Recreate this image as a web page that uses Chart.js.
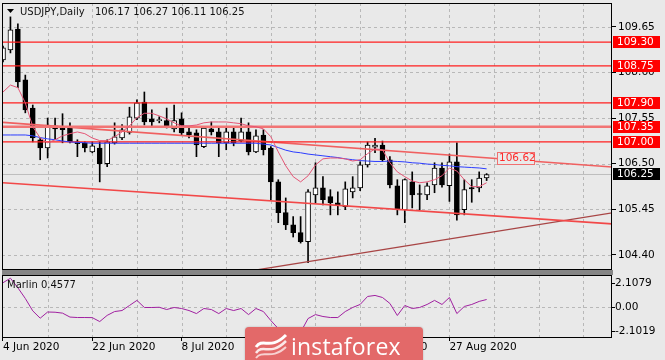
<!DOCTYPE html>
<html>
<head>
<meta charset="utf-8">
<title>USDJPY Daily</title>
<script src="https://cdn.jsdelivr.net/npm/chart.js@4/dist/chart.umd.min.js"></script>
<style>
  html, body { margin: 0; padding: 0; background: #e9e9e9; }
  #wrap { position: relative; width: 665px; height: 360px; overflow: hidden; }
  canvas { position: absolute; left: 0; }
  #main { top: 0; }
  #ind { top: 274px; }
  #sep { position: absolute; left: 2px; top: 270px; width: 611px; height: 5px; background: #858585; }
  #logo {
    position: absolute; left: 245px; top: 327px; width: 178px; height: 40px;
    background: #e36969; border-radius: 4px; box-shadow: 0 0 2px rgba(0,0,0,0.25);
  }
  #logo svg { position: absolute; left: 9px; top: 4px; }
  #logo span {
    position: absolute; left: 46px; top: 3px; color: #fff;
    font: 23px 'Open Sans', sans-serif; letter-spacing: 0.2px;
  }
</style>
</head>
<body>
<div id="wrap">
  <canvas id="main" width="665" height="271"></canvas>
  <div id="sep"></div>
  <canvas id="ind" width="665" height="86"></canvas>
  <div id="logo">
    <svg width="34" height="28" viewBox="0 0 34 28">
      <path d="M2 16 C9 6, 16 20, 32 4" stroke="#fff" stroke-width="3" fill="none"/>
      <path d="M2 22 C9 12, 16 26, 32 10" stroke="#fff" stroke-width="2.5" fill="none" opacity="0.85"/>
      <path d="M2 27 C9 18, 17 30, 32 16" stroke="#fff" stroke-width="2" fill="none" opacity="0.7"/>
    </svg>
    <span>instaforex</span>
  </div>
</div>
<script>
// barras diarias USDJPY
const dates = [
  '2020-06-04','2020-06-05','2020-06-08','2020-06-09','2020-06-10','2020-06-11','2020-06-12','2020-06-15','2020-06-16','2020-06-17',
  '2020-06-18','2020-06-19','2020-06-22','2020-06-23','2020-06-24','2020-06-25','2020-06-26','2020-06-29','2020-06-30',
  '2020-07-01','2020-07-02','2020-07-03','2020-07-06','2020-07-07','2020-07-08','2020-07-09','2020-07-10','2020-07-13','2020-07-14',
  '2020-07-15','2020-07-16','2020-07-17','2020-07-20','2020-07-21','2020-07-22','2020-07-23','2020-07-24','2020-07-27','2020-07-28',
  '2020-07-29','2020-07-30','2020-07-31',
  '2020-08-03','2020-08-04','2020-08-05','2020-08-06','2020-08-07','2020-08-10','2020-08-11','2020-08-12','2020-08-13','2020-08-14',
  '2020-08-17','2020-08-18','2020-08-19','2020-08-20','2020-08-21','2020-08-24','2020-08-25','2020-08-26','2020-08-27','2020-08-28',
  '2020-08-31','2020-09-01','2020-09-02','2020-09-03'
];
const opens = [108.89,109.12,109.60,108.43,107.78,107.05,106.86,107.37,107.33,107.32,107.00,106.98,106.77,106.86,106.50,106.98,107.09,107.22,107.55,107.92,
  107.53,107.49,107.49,107.30,107.53,107.23,107.21,106.89,107.30,107.23,106.98,107.23,107.03,107.23,106.77,107.16,106.86,106.08,105.37,105.09,
  104.91,104.70,105.78,105.94,105.74,105.60,105.51,105.85,105.94,106.47,106.88,106.93,106.59,105.99,105.44,106.08,105.80,105.78,106.01,106.40,
  105.99,106.54,105.44,105.95,105.94,106.17];
const highs = [109.21,109.88,109.72,108.54,107.85,107.09,107.55,107.55,107.65,107.44,107.05,107.00,107.00,107.00,107.05,107.44,107.40,107.80,107.97,108.15,
  107.74,107.58,107.78,107.85,107.67,107.32,107.28,107.35,107.46,107.32,107.32,107.32,107.55,107.44,107.28,107.28,106.89,106.13,105.71,105.28,
  105.28,105.90,106.52,106.20,105.90,105.85,106.08,106.20,106.54,107.00,107.08,107.02,106.66,106.13,106.15,106.31,106.01,106.06,106.52,106.52,
  106.72,106.98,106.13,106.13,106.31,106.27];
const lows = [108.84,109.05,108.25,107.67,107.00,106.59,106.63,107.05,106.98,106.98,106.66,106.77,106.75,106.08,106.43,106.95,107.05,107.18,107.51,107.39,
  107.35,107.44,107.32,107.23,107.16,107.09,106.66,106.87,107.16,106.66,106.82,106.91,107.00,106.70,106.75,106.70,105.67,105.14,104.98,104.81,
  104.67,104.22,105.60,105.55,105.32,105.32,105.44,105.71,105.88,106.42,106.75,106.55,105.94,105.32,105.14,105.48,105.44,105.67,105.83,105.96,
  105.63,105.20,105.32,105.61,105.85,106.11];
const closes = [109.17,109.58,108.38,107.74,107.09,106.86,107.39,107.30,107.28,107.00,106.96,106.86,106.91,106.50,107.00,107.12,107.28,107.58,107.90,107.46,
  107.46,107.50,107.35,107.49,107.21,107.16,106.93,107.32,107.23,106.98,107.23,106.98,107.23,106.77,107.14,106.82,106.08,105.37,105.09,104.91,
  104.70,105.85,105.94,105.67,105.60,105.53,105.92,105.94,106.47,106.93,106.93,106.59,106.01,105.44,106.13,105.78,105.79,105.99,106.40,106.01,
  106.54,105.32,105.90,105.92,106.17,106.25];

// medias moviles (rapida rosa, lenta azul)
const maFast = [108.15,108.31,108.25,107.90,107.35,107.09,106.98,107.05,107.14,107.19,107.23,107.19,107.09,107.03,107.03,107.12,107.23,107.37,107.56,107.66,
  107.66,107.60,107.53,107.44,107.37,107.37,107.39,107.44,107.46,107.46,107.46,107.44,107.42,107.37,107.35,107.30,107.12,106.77,106.45,106.20,
  106.08,106.22,106.47,106.61,106.63,106.63,106.61,106.56,106.59,106.73,106.84,106.82,106.52,106.31,106.20,106.10,106.06,106.08,106.13,106.22,
  106.40,106.33,106.13,105.97,105.97,106.06];
const maSlow = [107.16,107.16,107.16,107.16,107.14,107.10,107.07,107.05,107.02,107.00,106.99,106.98,106.97,106.97,106.97,106.97,106.97,106.97,106.97,106.97,
  106.97,106.97,106.97,106.97,106.97,106.97,106.97,106.97,106.97,106.97,106.97,106.97,106.97,106.97,106.97,106.95,106.93,106.87,106.81,106.77,
  106.75,106.72,106.70,106.68,106.66,106.64,106.61,106.59,106.57,106.56,106.55,106.55,106.56,106.55,106.54,106.52,106.51,106.49,106.48,106.46,
  106.45,106.43,106.42,106.41,106.40,106.38];

// indicador Marlin
const marlin = [2.2,2.6,1.75,0.8,-0.3,-0.95,-0.4,-0.42,-0.5,-0.85,-0.89,-0.89,-0.9,-1.25,-0.7,-0.36,-0.27,0.18,0.63,0.0,
  0.0,0.02,-0.18,0.0,-0.09,-0.27,-0.54,-0.09,-0.18,-0.54,-0.09,-0.27,-0.09,-0.63,-0.09,-0.36,-1.16,-1.88,-2.4,-2.7,
  -2.2,-0.98,-0.63,-0.8,-0.89,-0.89,-0.36,0.0,0.27,0.98,1.07,0.89,0.36,-0.71,0.18,-0.09,0.0,0.27,0.63,0.27,
  0.89,-0.54,0.09,0.27,0.54,0.71];
const marlinValue = 0.4577;

// niveles y lineas de tendencia [barra, precio]
const levels = [109.30, 108.75, 107.90, 107.35, 107.00];
const trendUpper = [[0, 107.45], [82, 106.42]];
const trendLower = [[0, 106.06], [82, 105.11]];
const trendRising = [[30, 103.94], [82, 105.37]];
const trendTag = [66.4, 106.62];

// etiquetas de ejes
const priceTicks = [104.40, 105.45, 106.50, 107.55, 108.60, 109.65];
const marlinTicks = [-2.1019, 0, 2.1079];
const marlinTickLabels = ['-2.1019', '0.00', '2.1079'];
const tickDates = ['2020-06-04', '2020-06-22', '2020-07-08', '2020-07-24', '2020-08-11', '2020-08-27'];

const MONTHS = ['Jan','Feb','Mar','Apr','May','Jun','Jul','Aug','Sep','Oct','Nov','Dec'];
const fmtDate = d => `${+d.slice(8)} ${MONTHS[+d.slice(5, 7) - 1]} ${d.slice(0, 4)}`;
const tickBars = tickDates.map(d => dates.indexOf(d));

const X_MIN = -0.134, X_MAX = 81.85;
const FONT = "'DejaVu Sans', sans-serif";
const BG = '#e9e9e9';

Chart.defaults.font.family = FONT;
Chart.defaults.font.size = 10.5;
Chart.defaults.color = '#000';
Chart.defaults.animation = false;

const last = closes.length - 1;
const pts = arr => arr.map((v, i) => ({ x: i, y: v }));
const seg = arr => arr.map(p => ({ x: p[0], y: p[1] }));
const flat = v => [{ x: X_MIN, y: v }, { x: X_MAX, y: v }];
const lineDs = (data, color, width, order) => ({
  type: 'line', data, borderColor: color, borderWidth: width,
  pointRadius: 0, fill: false, tension: 0, order
});
const crisp = v => Math.round(v) + 0.5;

// rejilla punteada
const dashGrid = {
  id: 'dashGrid',
  beforeDatasetsDraw(chart, args, opts) {
    const { ctx, chartArea: a, scales: { x, y } } = chart;
    ctx.save();
    ctx.strokeStyle = '#b8b8b8';
    ctx.lineWidth = 1;
    ctx.setLineDash([3, 3]);
    ctx.beginPath();
    for (let b = 6; b < X_MAX; b += 6) {
      const px = crisp(x.getPixelForValue(b));
      ctx.moveTo(px, a.top); ctx.lineTo(px, a.bottom);
    }
    opts.values.forEach(v => {
      const py = crisp(y.getPixelForValue(v));
      ctx.moveTo(a.left, py); ctx.lineTo(a.right, py);
    });
    ctx.stroke();
    ctx.restore();
  }
};

// marco negro
const frame = {
  id: 'frame',
  afterDatasetsDraw(chart) {
    const { ctx, chartArea: a } = chart;
    ctx.save();
    ctx.strokeStyle = '#000';
    ctx.lineWidth = 1;
    ctx.strokeRect(Math.round(a.left) + 0.5, Math.round(a.top) + 0.5,
      Math.round(a.right) - Math.round(a.left) - 1, Math.round(a.bottom) - Math.round(a.top) - 1);
    ctx.restore();
  }
};

// etiquetas de precio, titulo
const priceTags = {
  id: 'priceTags',
  afterDraw(chart) {
    const { ctx, chartArea: a, scales: { x, y } } = chart;
    ctx.save();
    ctx.font = '10.5px ' + FONT;
    ctx.textBaseline = 'middle';
    const tag = (value, bg) => {
      const py = Math.round(y.getPixelForValue(value));
      ctx.fillStyle = bg;
      ctx.fillRect(a.right + 1, py - 6, 47, 12);
      ctx.fillStyle = '#fff';
      ctx.fillText(value.toFixed(2), a.right + 5, py + 0.5);
    };
    levels.forEach(v => tag(v, '#ff0000'));
    tag(closes[last], '#000');

    // etiqueta de la linea de tendencia
    const tx = Math.round(x.getPixelForValue(trendTag[0]));
    const ty = Math.round(y.getPixelForValue(trendTag[1]));
    ctx.fillStyle = BG;
    ctx.fillRect(tx, ty - 6, 38, 12);
    ctx.strokeStyle = '#f07070';
    ctx.lineWidth = 1;
    ctx.strokeRect(tx + 0.5, ty - 5.5, 37, 12);
    ctx.fillStyle = '#ff2a2a';
    ctx.fillText(trendTag[1].toFixed(2), tx + 2, ty + 0.5);

    // titulo
    ctx.fillStyle = '#000';
    ctx.beginPath();
    ctx.moveTo(7, 9); ctx.lineTo(14, 9); ctx.lineTo(10.5, 13); ctx.closePath();
    ctx.fill();
    ctx.font = '10px ' + FONT;
    ctx.fillStyle = '#111';
    ctx.fillText('USDJPY,Daily', 20, 12.5);
    ctx.fillText([opens, highs, lows, closes].map(s => s[last].toFixed(2)).join(' '), 95, 12.5);
    ctx.restore();
  }
};

const marlinTitle = {
  id: 'marlinTitle',
  afterDraw(chart) {
    const { ctx } = chart;
    ctx.save();
    ctx.font = '10px ' + FONT;
    ctx.fillStyle = '#111';
    ctx.textBaseline = 'middle';
    ctx.fillText('Marlin ' + marlinValue.toFixed(4), 7, 11.5);
    ctx.restore();
  }
};

const bodyFill = closes.map((c, i) => c >= opens[i] ? '#ffffff' : '#000000');

// grafica principal: velas
new Chart(document.getElementById('main'), {
  type: 'bar',
  data: {
    datasets: [
      lineDs(flat(closes[last]), '#bdbdbd', 1, 20),
      { type: 'bar', data: lows.map((l, i) => ({ x: i, y: [l, highs[i]] })),
        backgroundColor: '#000', borderWidth: 0, barThickness: 1, grouped: false, order: 12 },
      { type: 'bar', data: opens.map((o, i) => ({ x: i, y: [o, closes[i]] })),
        backgroundColor: bodyFill, borderColor: '#000', borderWidth: 1, borderSkipped: false,
        barThickness: 5, minBarLength: 1, grouped: false, order: 11 },
      ...levels.map(v => v === 107.35
        ? lineDs(flat(v), '#f27575', 2.5, 6)
        : lineDs(flat(v), '#ff1f1f', 1.2, 5)),
      lineDs(seg(trendUpper), '#f06060', 1.6, 6),
      lineDs(seg(trendLower), '#f24848', 1.6, 6),
      lineDs(seg(trendRising), '#a84545', 1.3, 6),
      lineDs(pts(maSlow), '#2b3cff', 1, 2),
      lineDs(pts(maFast), '#e45575', 1, 1)
    ]
  },
  options: {
    responsive: false,
    devicePixelRatio: 1,
    layout: { autoPadding: false, padding: { top: 3, left: 2, right: 0, bottom: 1 } },
    plugins: { legend: { display: false }, tooltip: { enabled: false }, dashGrid: { values: priceTicks } },
    scales: {
      x: { type: 'linear', min: X_MIN, max: X_MAX, offset: false, display: false, grid: { offset: false } },
      y: {
        type: 'linear', position: 'right', min: 104.05, max: 110.2,
        afterBuildTicks: s => { s.ticks = priceTicks.map(v => ({ value: v })); },
        afterFit: s => { s.width = 53; s.paddingTop = 0; s.paddingBottom = 0; },
        ticks: { padding: 2, color: '#000', autoSkip: false, callback: v => Number(v).toFixed(2) },
        grid: { drawOnChartArea: false, drawTicks: true, tickLength: 4, color: '#000', tickColor: '#000' },
        border: { display: false }
      }
    }
  },
  plugins: [dashGrid, frame, priceTags]
});

// panel inferior: Marlin
new Chart(document.getElementById('ind'), {
  type: 'line',
  data: { datasets: [lineDs(pts(marlin), '#a020a0', 1, 1)] },
  options: {
    responsive: false,
    devicePixelRatio: 1,
    layout: { autoPadding: false, padding: { top: 1, left: 2, right: 0, bottom: 0 } },
    plugins: { legend: { display: false }, tooltip: { enabled: false }, dashGrid: { values: [0] } },
    scales: {
      x: {
        type: 'linear', position: 'bottom', min: X_MIN, max: X_MAX,
        afterBuildTicks: s => { s.ticks = tickBars.map(v => ({ value: v })); },
        afterFit: s => { s.height = 22; s.paddingLeft = 0; s.paddingRight = 0; },
        ticks: { autoSkip: false, maxRotation: 0, align: 'start', padding: 0, color: '#000',
          callback: (v, i) => fmtDate(tickDates[i]) },
        grid: { drawOnChartArea: false, drawTicks: true, tickLength: 3, color: '#000', tickColor: '#000' },
        border: { display: false }
      },
      y: {
        type: 'linear', position: 'right', min: -2.709, max: 2.886,
        afterBuildTicks: s => { s.ticks = marlinTicks.map(v => ({ value: v })); },
        afterFit: s => { s.width = 53; s.paddingTop = 0; s.paddingBottom = 0; },
        ticks: { padding: 0, color: '#000', autoSkip: false, callback: (v, i) => marlinTickLabels[i] },
        grid: { drawOnChartArea: false, drawTicks: true, tickLength: 3, color: '#000', tickColor: '#000' },
        border: { display: false }
      }
    }
  },
  plugins: [dashGrid, frame, marlinTitle]
});
</script>
</body>
</html>
